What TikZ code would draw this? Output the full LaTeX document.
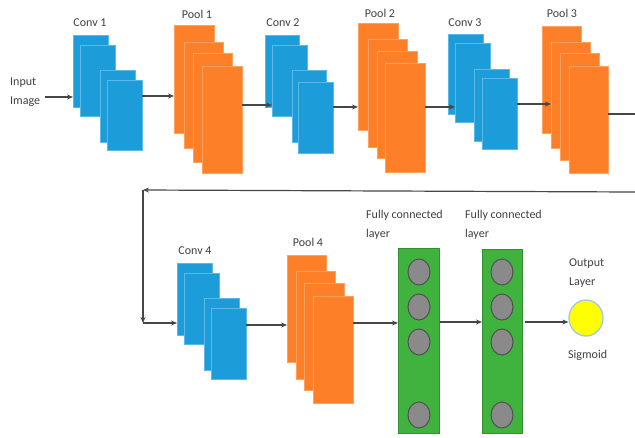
\documentclass[tikz,border=0pt]{standalone}
\usepackage{fontspec}
\setmainfont{Carlito}
\usetikzlibrary{arrows.meta,calc}
\definecolor{cblue}{RGB}{28,157,218}
\definecolor{cblueedge}{RGB}{90,185,230}
\definecolor{corange}{RGB}{253,127,39}
\definecolor{corangeedge}{RGB}{255,160,95}
\definecolor{cgreen}{RGB}{64,178,62}
\definecolor{cgray}{RGB}{138,138,138}
\definecolor{cgrayedge}{RGB}{80,80,80}
\definecolor{cyell}{RGB}{255,255,0}
\definecolor{cyedge}{RGB}{160,200,230}
\definecolor{ctext}{RGB}{64,64,64}
\definecolor{cline}{RGB}{70,70,70}
\tikzset{
  fm/.style={inner sep=0pt, outer sep=0pt, anchor=north west},
  convbox/.style={fm, fill=cblue, draw=cblueedge, line width=0.6pt},
  poolbox/.style={fm, fill=corange, draw=corangeedge, line width=0.6pt},
  fcbox/.style={fm, fill=cgreen, draw=cgreen!80!black, line width=0.5pt},
  neuron/.style={ellipse, inner sep=0pt, fill=cgray, draw=cgrayedge, line width=1pt, minimum width=22pt, minimum height=26pt},
  lbl/.style={text=ctext, font=\fontsize{12}{19}\selectfont, inner sep=0pt},
  arr/.style={draw=cline, line width=1.2pt, -{Stealth[length=6pt,width=5pt]}},
  ln/.style={draw=cline, line width=1.2pt}
}
\usetikzlibrary{shapes.geometric}
\newcommand{\rbox}[6]{% style, name, x1, y1, x2, y2
  \node[#1, minimum width={#5-#3}, minimum height={#6-#4}] (#2) at (#3,#4) {};}
\begin{document}
\begin{tikzpicture}[x=1pt, y=-1pt]
\useasboundingbox (0,0) rectangle (635,437);
\fill[white] (0,0) rectangle (635,437);

% Conv 1
\rbox{convbox}{c1a}{73}{35}{108}{107}
\rbox{convbox}{c1b}{80}{45}{115}{116}
\rbox{convbox}{c1c}{100}{70}{135}{142}
\rbox{convbox}{c1d}{107}{80}{142}{150}
% Pool 1
\rbox{poolbox}{p1a}{174}{25}{214}{133}
\rbox{poolbox}{p1b}{184}{42}{223}{148}
\rbox{poolbox}{p1c}{193}{53}{232}{162}
\rbox{poolbox}{p1d}{202}{66}{242}{173}
% Conv 2
\rbox{convbox}{c2a}{265}{35}{299}{107}
\rbox{convbox}{c2b}{272}{45}{307}{116}
\rbox{convbox}{c2c}{292}{70}{326}{142}
\rbox{convbox}{c2d}{298}{82}{333}{153}
% Pool 2
\rbox{poolbox}{p2a}{358}{23}{398}{130}
\rbox{poolbox}{p2b}{368}{39}{407}{147}
\rbox{poolbox}{p2c}{377}{51}{417}{158}
\rbox{poolbox}{p2d}{385}{63}{425}{172}
% Conv 3
\rbox{convbox}{c3a}{448}{34}{483}{114}
\rbox{convbox}{c3b}{455}{43}{490}{122}
\rbox{convbox}{c3c}{474}{69}{509}{141}
\rbox{convbox}{c3d}{482}{78}{517}{149}
% Pool 3
\rbox{poolbox}{p3a}{542}{26}{581}{133}
\rbox{poolbox}{p3b}{551}{42}{590}{148}
\rbox{poolbox}{p3c}{560}{53}{599}{160}
\rbox{poolbox}{p3d}{569}{66}{608}{173}
% Conv 4
\rbox{convbox}{c4a}{177}{263}{212}{335}
\rbox{convbox}{c4b}{184}{273}{219}{344}
\rbox{convbox}{c4c}{204}{298}{239}{370}
\rbox{convbox}{c4d}{211}{308}{246}{379}
% Pool 4
\rbox{poolbox}{p4a}{287}{255}{326}{362}
\rbox{poolbox}{p4b}{296}{271}{335}{379}
\rbox{poolbox}{p4c}{304}{283}{344}{390}
\rbox{poolbox}{p4d}{313}{296}{353}{403}
% Fully connected layers
\rbox{fcbox}{fc1}{398}{248}{439}{433}
\rbox{fcbox}{fc2}{482}{249}{522}{433}
\foreach \i/\yy in {1/272,2/307,3/342,4/415}{
  \node[neuron] (na\i) at (419,\yy) {};
  \node[neuron] (nb\i) at (502,\yy) {};
}
% Output
\node[ellipse, inner sep=0pt, fill=cyell, draw=cyedge, line width=1.3pt, minimum width=34pt, minimum height=36pt] (out) at (586,318) {};

% Labels
\node[lbl] (lc1) at (90,23) {Conv 1};
\node[lbl] (lp1) at (197,14) {Pool 1};
\node[lbl] (lc2) at (283,23) {Conv 2};
\node[lbl] (lp2) at (380,13) {Pool 2};
\node[lbl] (lc3) at (465,23) {Conv 3};
\node[lbl] (lp3) at (562,13) {Pool 3};
\node[lbl] (lc4) at (195,251) {Conv 4};
\node[lbl] (lp4) at (308,242) {Pool 4};
\node[lbl, align=left, anchor=west] (inp) at (10,92) {Input\\Image};
\node[lbl, align=left, anchor=west] (lfc1) at (366,225) {Fully connected\\layer};
\node[lbl, align=left, anchor=west] (lfc2) at (465,225) {Fully connected\\layer};
\node[lbl, align=left, anchor=west] (lout) at (569,273) {Output\\Layer};
\node[lbl, anchor=west] (lsig) at (568,355) {Sigmoid};

% Connectors
\draw[arr] ([xshift=5pt]inp.east |- 0,97) -- (c1a.west |- 0,97);
\draw[arr] (c1d.east |- 0,96) -- (p1a.west |- 0,96);
\draw[arr] (p1d.east |- 0,105) -- (c2b.west |- 0,105);
\draw[arr] (c2d.east |- 0,107) -- (p2a.west |- 0,107);
\draw[arr] (p2d.east |- 0,107) -- (c3b.west |- 0,107);
\draw[arr] (c3d.east |- 0,104) -- (p3b.west |- 0,104);
\coordinate (r0) at (635,114);
\draw[ln] (p3d.east |- r0) -- (r0);
\coordinate (r1) at (635,192);
\coordinate (l1) at (143,190);
\coordinate (l2) at (143,323);
\draw[arr] (r1) -- (l1);
\draw[arr] (l1) -- (l2);
\draw[arr] (l2) -- (c4a.west |- l2);
\draw[arr] (c4d.east |- 0,325) -- (p4a.west |- 0,325);
\draw[arr] (p4d.east |- 0,323) -- (fc1.west |- 0,323);
\draw[arr] ([xshift=1pt]fc1.east |- 0,322) -- (fc2.west |- 0,322);
\draw[arr] ([xshift=3pt]fc2.east |- 0,322) -- (out.west |- 0,322);
\end{tikzpicture}
\end{document}
